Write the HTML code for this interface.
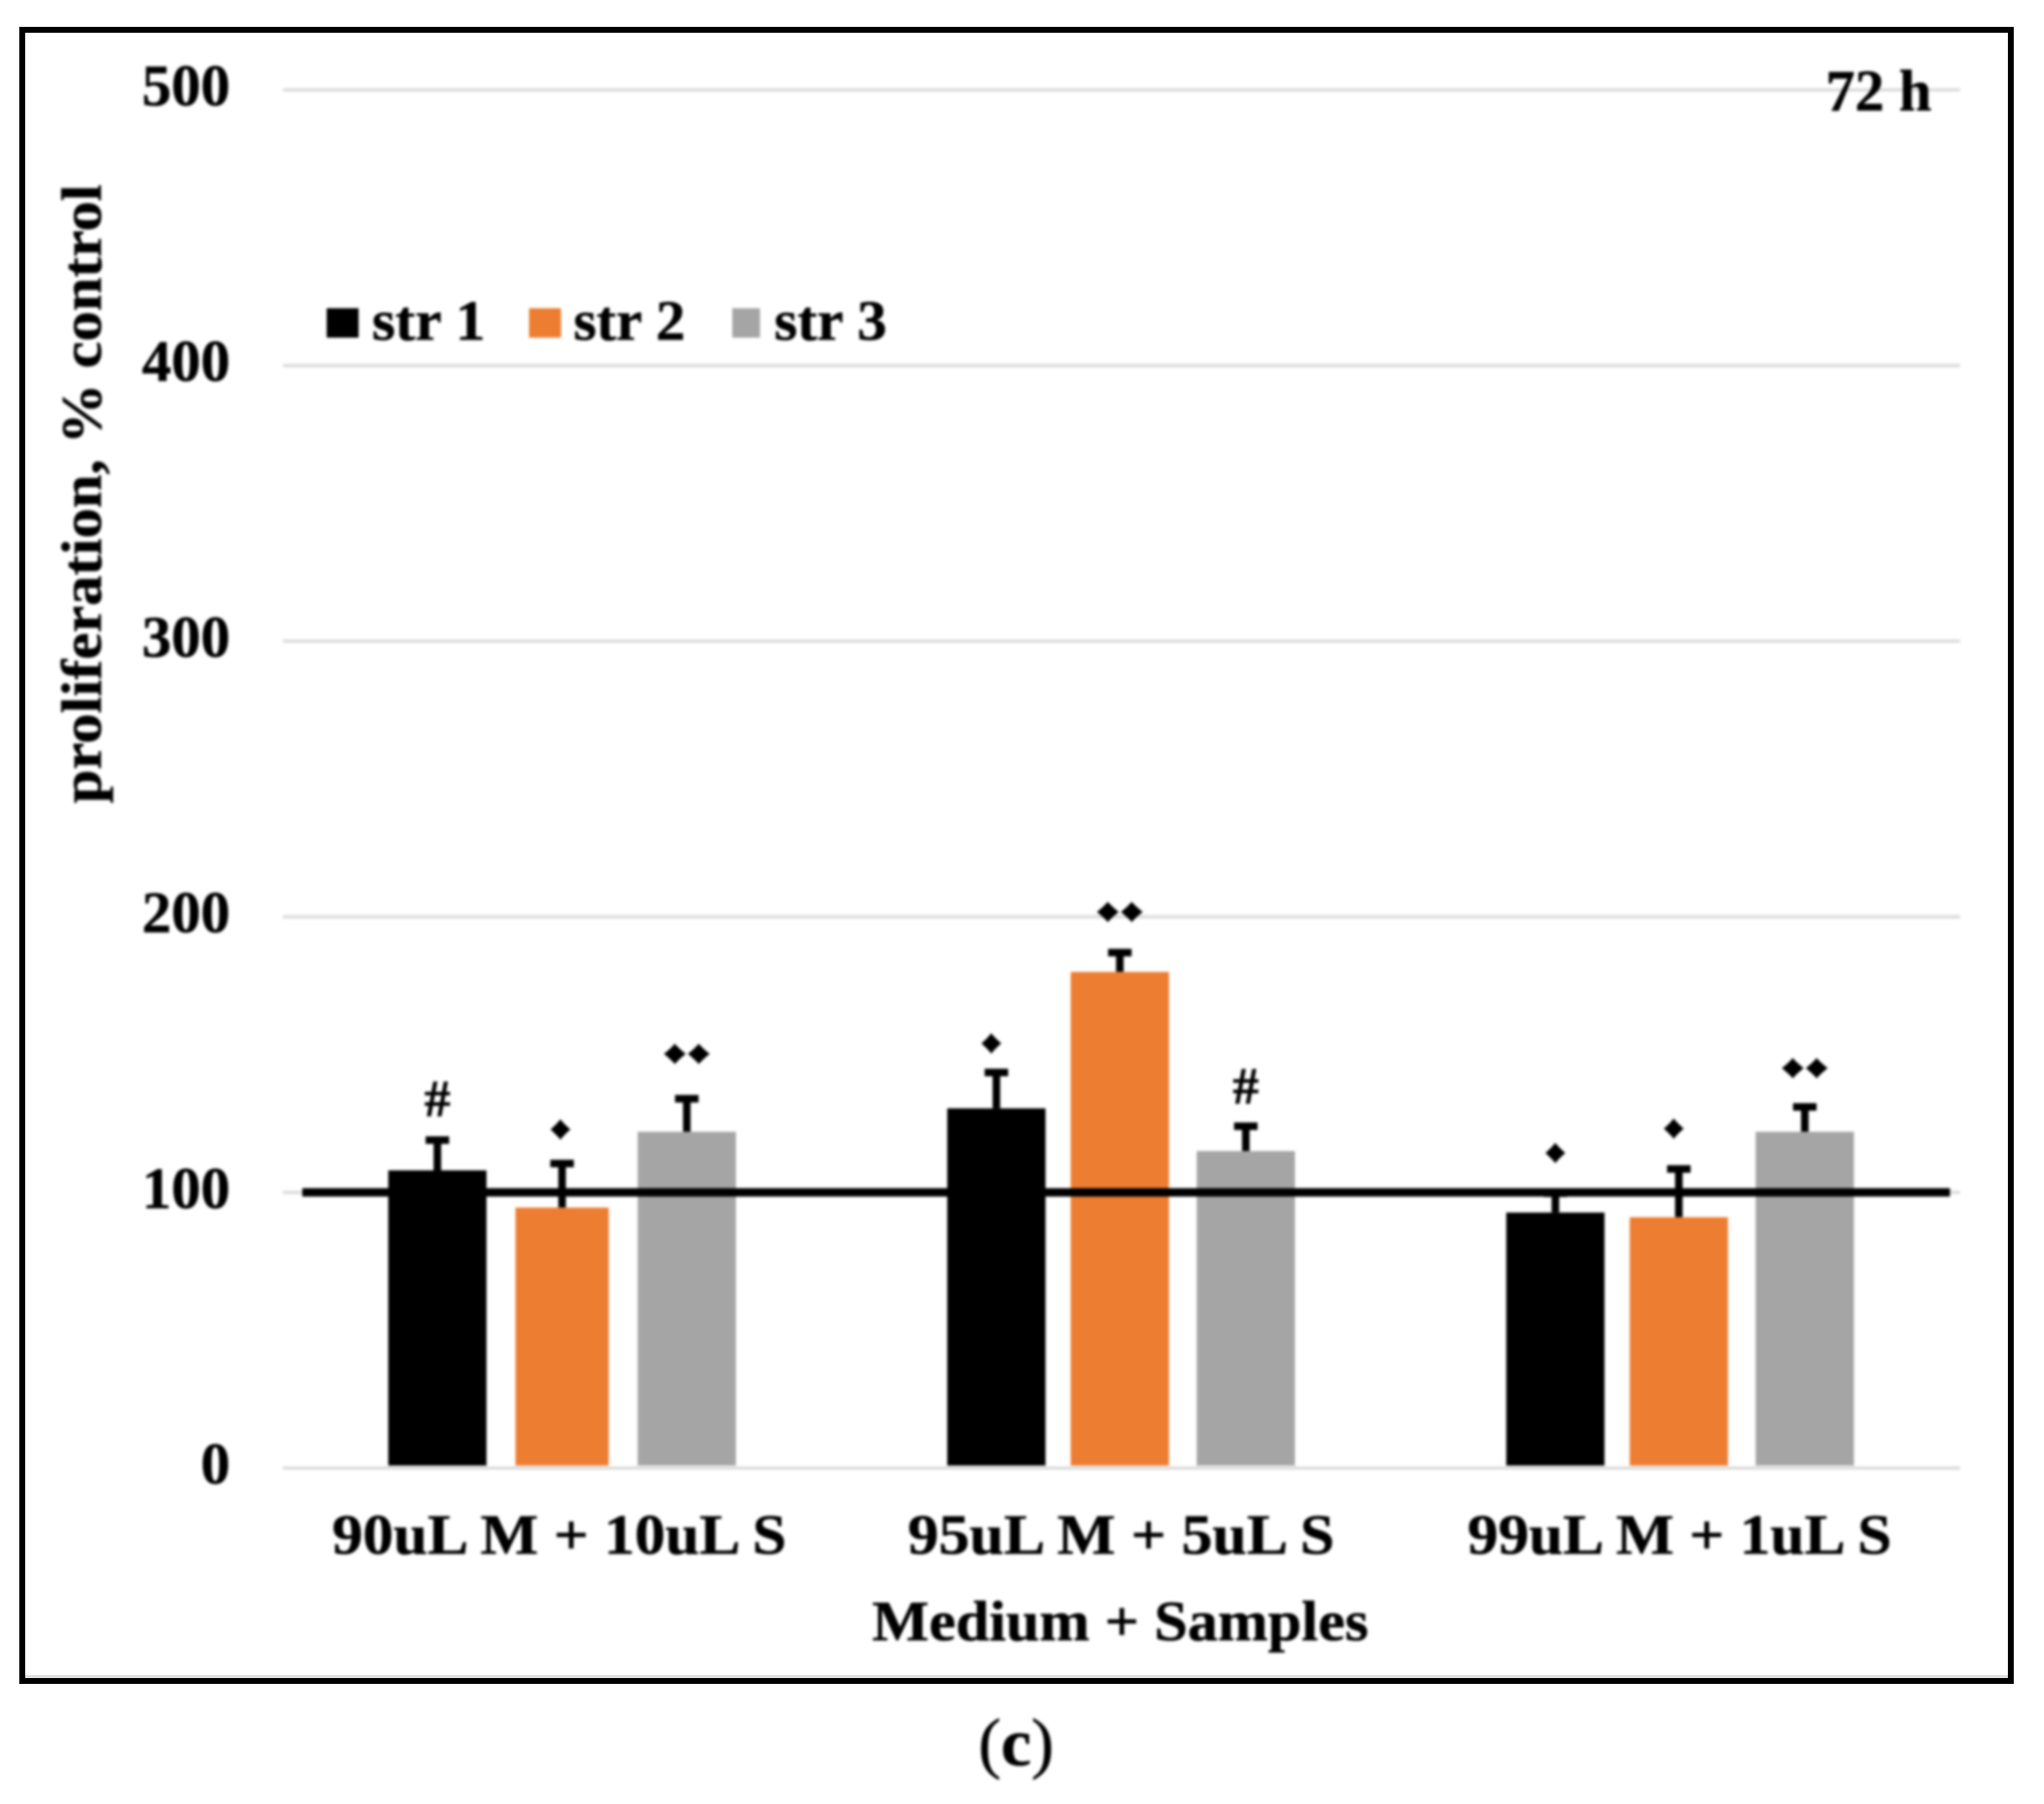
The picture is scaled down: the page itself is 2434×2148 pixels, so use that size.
<!DOCTYPE html>
<html lang="en">
<head>
<meta charset="utf-8">
<title>Proliferation chart, 72 h</title>
<style>
html,body{margin:0;padding:0;background:#fff;width:2434px;height:2148px;overflow:hidden}
svg{display:block}
text{font-family:"Liberation Serif","DejaVu Serif",serif;font-weight:bold;fill:#000;stroke:#000;stroke-width:0.6px}
.soft{filter:blur(1.6px)}
</style>
</head>
<body>
<svg id="chart" xmlns="http://www.w3.org/2000/svg" width="2434" height="2148" viewBox="0 0 2434 2148">
  <rect x="0" y="0" width="2434" height="2148" fill="#ffffff"/>
  <line x1="30" x2="2391" y1="1996" y2="1996" stroke="#dcdcdc" stroke-width="3"/>
  <rect x="26.5" y="35.5" width="2368" height="1966" fill="none" stroke="#000" stroke-width="7"/>
  <g class="soft">
    <g id="grid"></g>
    <g id="yticks"></g>
    <g id="bars"></g>
    <g id="reference"></g>
    <g id="marks"></g>
    <g id="xticks"></g>

    <text transform="translate(120,588) rotate(-90)" text-anchor="middle" font-size="68" textLength="737" lengthAdjust="spacingAndGlyphs">proliferation, % control</text>
    <text x="1334" y="1953" text-anchor="middle" font-size="68" textLength="591" lengthAdjust="spacingAndGlyphs">Medium + Samples</text>
    <text x="2174" y="131.5" font-size="70" textLength="126" lengthAdjust="spacingAndGlyphs">72 h</text>

    <g>
      <rect x="389" y="367" width="38" height="35" fill="#000"/>
      <text x="443" y="404.5" font-size="68" textLength="135" lengthAdjust="spacingAndGlyphs">str 1</text>
      <rect x="630" y="367" width="38" height="35" fill="#ED7D31"/>
      <text x="683" y="404.5" font-size="68" textLength="133" lengthAdjust="spacingAndGlyphs">str 2</text>
      <rect x="872" y="367" width="33" height="35" fill="#A5A5A5"/>
      <text x="922" y="404.5" font-size="68" textLength="134" lengthAdjust="spacingAndGlyphs">str 3</text>
    </g>

    <text x="1165" y="2102" font-size="80" textLength="90" lengthAdjust="spacingAndGlyphs"><tspan font-weight="normal">(</tspan>c<tspan font-weight="normal">)</tspan></text>
  </g>
</svg>
<script>
const yTicks = [0, 100, 200, 300, 400, 500];
const categories = ["90uL M + 10uL S", "95uL M + 5uL S", "99uL M + 1uL S"];
const seriesNames = ["str 1", "str 2", "str 3"];
const str1Values = [108, 130.5, 92.7];
const str2Values = [94.5, 180, 91];
const str3Values = [122, 115, 122];
const str1Errors = [11, 13, 7];
const str2Errors = [16, 7, 17.5];
const str3Errors = [12, 9, 9];
const str1Marks = ["#", "♦", "♦"];
const str2Marks = ["♦", "♦♦", "♦"];
const str3Marks = ["♦♦", "#", "♦♦"];
const str1MarkLevels = [133.8, 154.6, 114.9];
const str2MarkLevels = [123.4, 202.3, 123.7];
const str3MarkLevels = [150.8, 138.3, 145.6];
const referenceValue = 100;

const NS = "http://www.w3.org/2000/svg";
const plotLeft = 337, plotRight = 2334, yZero = 1748, yMax = 107, domainMax = 500;
const seriesColors = ["#000000", "#ED7D31", "#A5A5A5"];
const seriesOffsets = [-149, -2, 148];
const catLabelWidths = [541, 508, 505];
const catLabelCentres = [666, 1335, 2000];

function yScale(v) { return yZero - (v / domainMax) * (yZero - yMax); }
function xBand(i) { return plotLeft + (i + 0.5) * (plotRight - plotLeft) / categories.length; }
function make(tag, attrs, parent) {
  const el = document.createElementNS(NS, tag);
  for (const k in attrs) el.setAttribute(k, attrs[k]);
  parent.appendChild(el);
  return el;
}

const gridG = document.getElementById("grid");
const yTickG = document.getElementById("yticks");
yTicks.forEach(function (t) {
  const line = make("line", {x1: plotLeft, x2: plotRight, y1: yScale(t), y2: yScale(t), stroke: "#dcdcdc", "stroke-width": 4}, gridG);
  
  
  const label = make("text", {x: 274, y: yScale(t) + 18.5, "text-anchor": "end", "font-size": 70}, yTickG);
  
  
  label.textContent = String(t);
});

const allValues = [str1Values, str2Values, str3Values];
const allErrors = [str1Errors, str2Errors, str3Errors];
const allMarks = [str1Marks, str2Marks, str3Marks];
const allLevels = [str1MarkLevels, str2MarkLevels, str3MarkLevels];
const barG = document.getElementById("bars");
const markG = document.getElementById("marks");

categories.forEach(function (cat, c) {
  seriesNames.forEach(function (name, s) {
    const v = allValues[s][c];
    const e = allErrors[s][c];
    const narrow = (s === 1 && c === 0);
    const cx = xBand(c) + seriesOffsets[s] + (narrow ? 1.5 : 0);
    const w = narrow ? 111 : 117;
    const color = seriesColors[s];

    const stem = make("line", {x1: cx, x2: cx, y1: yScale(v), y2: yScale(v + e), stroke: "#000", "stroke-width": 9}, barG);
    
    
    const cap = make("line", {x1: cx - 14, x2: cx + 14, y1: yScale(v + e), y2: yScale(v + e), stroke: "#000", "stroke-width": 9}, barG);
    
    

    const bar = make("rect", {x: cx - w / 2, y: yScale(v), width: w, height: yZero - 3 - yScale(v), fill: color}, barG);
    
    

    const txt = allMarks[s][c];
    const isHash = txt === "#";
    const shifted = (s === 0 && c === 1) || (s === 1 && c === 2);
    const mx = cx + (shifted ? -6 : 0) + (s === 1 && c === 0 ? -2 : 0);
    const attrs = {x: mx, y: yScale(allLevels[s][c]) + (isHash ? 20 : 13), "text-anchor": "middle", "font-size": isHash ? 62 : 38};
    if (!isHash) {
      attrs.textLength = txt.length === 2 ? 57 : 26;
      attrs.lengthAdjust = "spacingAndGlyphs";
    }
    const mark = make("text", attrs, markG);
    
    
    mark.textContent = txt;
  });

  const cl = make("text", {x: catLabelCentres[c], y: 1850, "text-anchor": "middle", "font-size": 68, textLength: catLabelWidths[c], lengthAdjust: "spacingAndGlyphs"}, document.getElementById("xticks"));
  
  
  cl.textContent = cat;
});

const refLine = make("line", {x1: 360, x2: 2322, y1: yScale(referenceValue), y2: yScale(referenceValue), stroke: "#000", "stroke-width": 10}, document.getElementById("reference"));


</script>
</body>
</html>
